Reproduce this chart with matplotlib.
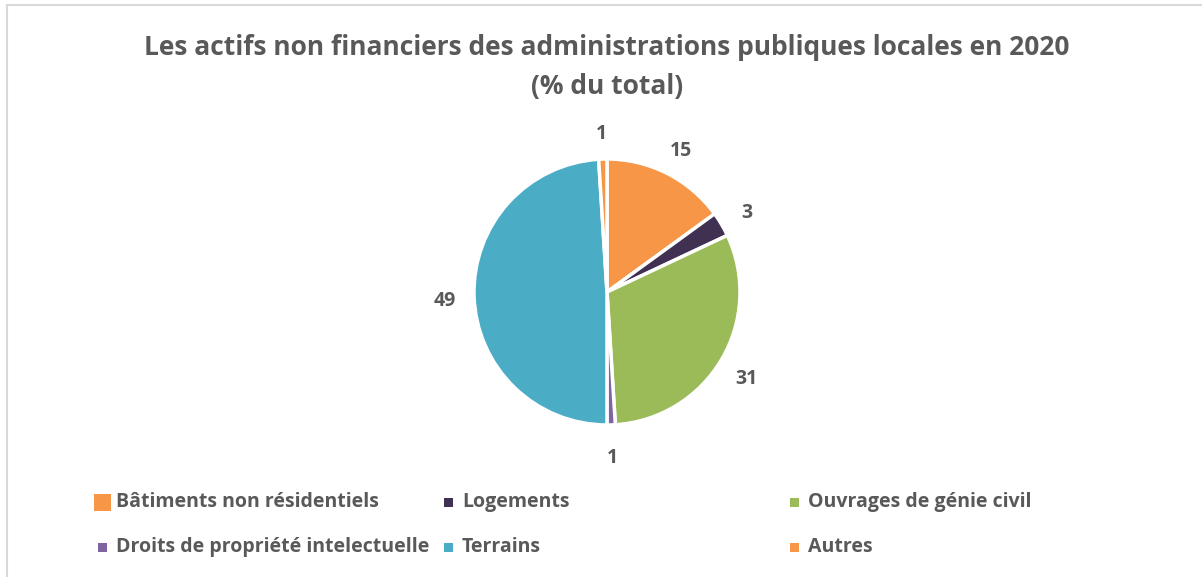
import matplotlib
matplotlib.use("Agg")
import matplotlib.pyplot as plt
from matplotlib.patches import Rectangle
from matplotlib.lines import Line2D

categories = ["Bâtiments non résidentiels", "Logements", "Ouvrages de génie civil",
              "Droits de propriété intelectuelle", "Terrains", "Autres"]
values = [15, 3, 31, 1, 49, 1]
colors = ["#F79646", "#403152", "#9BBB59", "#8064A2", "#4BACC6", "#F79646"]
title = "Les actifs non financiers des administrations publiques locales en 2020\n(% du total)"

TXT = "#595959"
W, H = 1202, 577
plt.rcParams['font.family'] = ['Open Sans', 'DejaVu Sans']

fig = plt.figure(figsize=(W / 100, H / 100), dpi=100)

# chart frame (top and left edges visible)
fig.add_artist(Line2D([7 / W, 7 / W], [0, 1 - 5 / H], color="#d9d9d9", lw=1.5))
fig.add_artist(Line2D([7 / W, 1], [1 - 5 / H, 1 - 5 / H], color="#d9d9d9", lw=1.5))

fig.text(607 / W, 1 - 67 / H, title, ha='center', va='center', fontsize=19,
         fontweight='bold', color=TXT, linespacing=1.6)

cx, cy, r = 607, 292, 133
ax = fig.add_axes([(cx - r) / W, 1 - (cy + r) / H, 2 * r / W, 2 * r / H])
wedges, texts = ax.pie(values, colors=colors, startangle=90, counterclock=False,
                       labels=[str(v) for v in values], labeldistance=1.22,
                       wedgeprops={'edgecolor': 'white', 'linewidth': 2.5})
for t in texts:
    t.set_fontsize(14)
    t.set_fontweight('bold')
    t.set_color(TXT)
    t.set_ha('center')
    t.set_va('center')
    px, py = t.get_position()
    t.set_position((px, py - 0.03))
ax.set_aspect('equal')
ax.set_xlim(-1, 1)
ax.set_ylim(-1, 1)

# legend, row-major grid of 3 columns
text_x = [116, 462, 808]
row_y = [502, 547]
for i, (lab, col) in enumerate(zip(categories, colors)):
    x = text_x[i % 3]
    y = row_y[i // 3]
    if i == 0:
        s, mx = 17, x - 22
    else:
        s, mx = 9, x - 18
    fig.add_artist(Rectangle((mx / W, 1 - (y + s / 2) / H), s / W, s / H,
                             facecolor=col, edgecolor='none',
                             transform=fig.transFigure))
    fig.text(x / W, 1 - y / H, lab, ha='left', va='center', fontsize=14,
             fontweight='bold', color=TXT)

fig.savefig("out.png", dpi=100)
